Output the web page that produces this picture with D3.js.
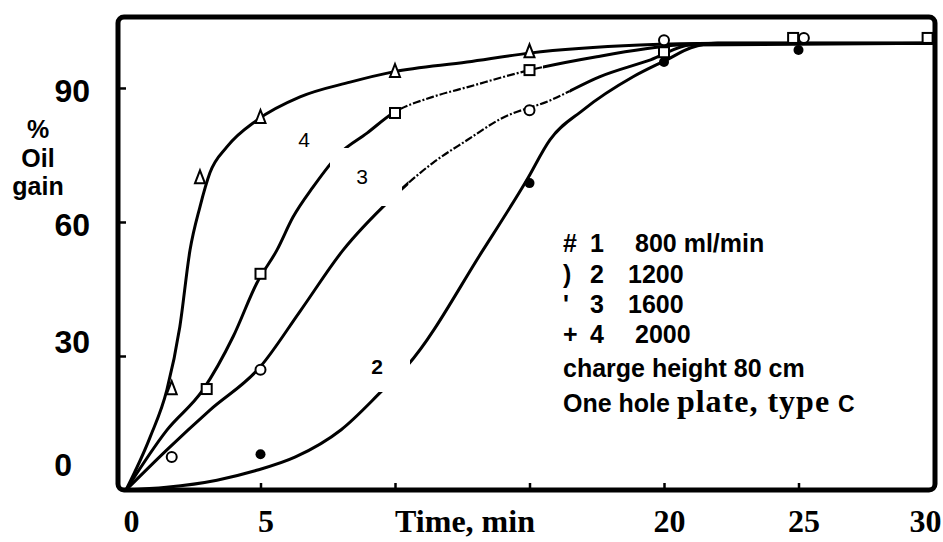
<!DOCTYPE html>
<meta charset="utf-8">
<html>
<head>
    <script src="https://d3js.org/d3.v7.min.js"></script>
    <style>
        body { margin: 0; background: #fff; }
        svg { display: block; }
    </style>
</head>
<body>
<div id="chart"></div>
<script>

    // measured points (time in min, % oil gain)
    var triT = [1.7, 2.75, 5, 10, 15];
    var triV = [22.8, 70, 83.5, 93.8, 98.2];
    var sqT = [3, 5, 10, 15, 20, 24.8, 29.8];
    var sqV = [22.6, 48.4, 84.4, 94, 98, 101.2, 101.2];
    var circT = [1.7, 5, 15, 20, 25.2];
    var circV = [7.4, 26.9, 85, 100.7, 101.2];
    var dotT = [5, 15, 20, 25];
    var dotV = [8, 68.7, 95.8, 98.5];

    // hand drawn curves
    var c4T = [0, 0.9, 1.52, 2.0, 2.38, 2.75, 3.12, 3.75, 4.87, 6.47, 8.33, 9.93, 12.68, 15.0, 19.1, 22, 30];
    var c4V = [0, 11.9, 22.4, 36.5, 53.7, 63.4, 71, 76.8, 82.8, 88, 91.3, 93.6, 95.8, 97.8, 99.6, 100, 100];
    var c3T = [0, 1.52, 2.86, 3.98, 4.87, 5.61, 6.21, 6.95, 7.95, 8.96, 9.93, 11.4, 12.7, 15.0, 17.5, 20.5, 22, 30];
    var c3V = [0, 13.4, 22.4, 34.3, 46.4, 53.7, 61.1, 67.8, 75.4, 79.9, 84.4, 88, 90.2, 94, 97, 99.6, 100, 100];
    var c2T = [0, 1.52, 3.12, 4.98, 6.47, 8.07, 9.81, 11.4, 12.7, 13.9, 15.8, 17.6, 19.5, 21, 30];
    var c2V = [0, 9, 17.9, 27.5, 40, 53.7, 64.9, 73.2, 78.4, 83, 87.3, 92.5, 96.3, 99.6, 100];
    var c1T = [0, 1.5, 3.38, 4.8, 6.3, 8.0, 9.55, 10.48, 13.27, 14.9, 15.76, 17.0, 18.85, 20.1, 21, 22, 30];
    var c1V = [0, 0.6, 2.2, 4.3, 7.4, 13.5, 22.4, 28, 53.7, 69.4, 78.4, 85.1, 92.5, 96.3, 99, 100, 100];

    // stretches of curves 3 and 2 that are broken/dashed in the scan
    var dashed3 = [10, 15.5];
    var dashed2 = [10.5, 16.5];

    var xTickVals = [5, 10, 15, 20, 25];
    var xLabelVals = [0, 5, 20, 25, 30];
    var yTickVals = [30, 60, 90];
    var yLabelVals = [0, 30, 60, 90];

    var legendRows = [
        ["#", "1", "800 ml/min"],
        [")", "2", "1200"],
        ["'", "3", "1600"],
        ["+", "4", "2000"]
    ];

    var width = 943, height = 542;

    var svg = d3.select("#chart")
        .append("svg")
        .attr("width", width)
        .attr("height", height);

    var x = d3.scaleLinear().domain([0, 30]).range([126, 933]);
    var y = d3.scaleLinear().domain([0, 100]).range([490, 43.3]);

    var sans = "'Liberation Sans', Arial, sans-serif";
    var serif = "'Liberation Serif', 'Times New Roman', serif";

    function zip(t, v) {
        return t.map(function (d, i) { return { t: d, v: v[i] }; });
    }

    // clip regions: inside / outside a time range
    var defs = svg.append("defs");
    function makeClips(id, r) {
        defs.append("clipPath").attr("id", id + "-in")
            .append("rect").attr("x", x(r[0])).attr("y", 0)
            .attr("width", x(r[1]) - x(r[0])).attr("height", height);
        var out = defs.append("clipPath").attr("id", id + "-out");
        out.append("rect").attr("x", 0).attr("y", 0).attr("width", x(r[0])).attr("height", height);
        out.append("rect").attr("x", x(r[1])).attr("y", 0).attr("width", width - x(r[1])).attr("height", height);
    }
    makeClips("c3", dashed3);
    makeClips("c2", dashed2);

    // curves
    var line = d3.line()
        .x(function (d) { return x(d.t); })
        .y(function (d) { return y(d.v); })
        .curve(d3.curveMonotoneX);

    function drawCurve(t, v, clipId) {
        var p = svg.append("path")
            .datum(zip(t, v))
            .attr("d", line)
            .attr("fill", "none")
            .attr("stroke", "#000")
            .attr("stroke-width", 3);
        if (clipId) {
            p.attr("clip-path", "url(#" + clipId + "-out)");
            svg.append("path")
                .datum(zip(t, v))
                .attr("d", line)
                .attr("fill", "none")
                .attr("stroke", "#000")
                .attr("stroke-width", 2.2)
                .attr("stroke-dasharray", "8,2,2,2")
                .attr("clip-path", "url(#" + clipId + "-in)");
        }
    }
    drawCurve(c1T, c1V);
    drawCurve(c2T, c2V, "c2");
    drawCurve(c3T, c3V, "c3");
    drawCurve(c4T, c4V);

    // white patches where the curve numbers sit
    svg.append("rect").attr("x", 330).attr("y", 148).attr("width", 72).attr("height", 58).attr("fill", "#fff");
    svg.append("rect").attr("x", 362).attr("y", 352).attr("width", 48).attr("height", 40).attr("fill", "#fff");

    svg.append("text").attr("x", 304).attr("y", 147).attr("text-anchor", "middle")
        .style("font-family", sans).style("font-size", "21px").text("4");
    svg.append("text").attr("x", 362).attr("y", 184).attr("text-anchor", "middle")
        .style("font-family", sans).style("font-size", "21px").text("3");
    svg.append("text").attr("x", 377).attr("y", 374).attr("text-anchor", "middle")
        .style("font-family", sans).style("font-size", "21px").style("font-weight", "bold").text("2");

    // markers
    svg.selectAll(".tri")
        .data(zip(triT, triV))
        .enter().append("path")
        .attr("class", "tri")
        .attr("d", function (d) {
            var cx = x(d.t), cy = y(d.v);
            return "M" + cx + "," + (cy - 7) + "L" + (cx + 5) + "," + (cy + 6) + "L" + (cx - 5) + "," + (cy + 6) + "Z";
        })
        .attr("fill", "#fff").attr("stroke", "#000").attr("stroke-width", 2);

    svg.selectAll(".sq")
        .data(zip(sqT, sqV))
        .enter().append("rect")
        .attr("class", "sq")
        .attr("x", function (d) { return x(d.t) - 5; })
        .attr("y", function (d) { return y(d.v) - 5; })
        .attr("width", 10).attr("height", 10)
        .attr("fill", "#fff").attr("stroke", "#000").attr("stroke-width", 2);

    svg.selectAll(".circ")
        .data(zip(circT, circV))
        .enter().append("circle")
        .attr("class", "circ")
        .attr("cx", function (d) { return x(d.t); })
        .attr("cy", function (d) { return y(d.v); })
        .attr("r", 5)
        .attr("fill", "#fff").attr("stroke", "#000").attr("stroke-width", 2);

    svg.selectAll(".dot")
        .data(zip(dotT, dotV))
        .enter().append("circle")
        .attr("class", "dot")
        .attr("cx", function (d) { return x(d.t); })
        .attr("cy", function (d) { return y(d.v); })
        .attr("r", 5)
        .attr("fill", "#000");

    // frame
    svg.append("rect")
        .attr("x", 118).attr("y", 17)
        .attr("width", 935 - 118).attr("height", 490 - 17)
        .attr("rx", 6)
        .attr("fill", "none").attr("stroke", "#000").attr("stroke-width", 5);

    // inward tick marks
    svg.append("g")
        .attr("transform", "translate(0,490)")
        .call(d3.axisBottom(x).tickValues(xTickVals).tickSize(-7).tickFormat(""))
        .call(function (g) { g.select(".domain").remove(); })
        .selectAll("line").attr("stroke-width", 2.5);

    svg.append("g")
        .attr("transform", "translate(118,0)")
        .call(d3.axisLeft(y).tickValues(yTickVals).tickSize(-8).tickFormat(""))
        .call(function (g) { g.select(".domain").remove(); })
        .selectAll("line").attr("stroke-width", 2.5);

    // x tick labels
    var xLab = svg.append("g")
        .attr("transform", "translate(0,490)")
        .call(d3.axisBottom(x).tickValues(xLabelVals).tickSize(0).tickPadding(19).tickFormat(d3.format("d")));
    xLab.select(".domain").remove();
    xLab.selectAll("text")
        .attr("fill", "#000")
        .attr("dx", function (d) { return d === 30 ? -8 : 5; })
        .style("font-family", serif)
        .style("font-size", "32px")
        .style("font-weight", "bold");

    svg.append("text")
        .attr("x", 465).attr("y", 532)
        .attr("text-anchor", "middle")
        .style("font-family", serif).style("font-size", "32px").style("font-weight", "bold")
        .text("Time, min");

    // y tick labels
    var yLab = svg.append("g")
        .attr("transform", "translate(118,0)")
        .call(d3.axisLeft(y).tickValues(yLabelVals).tickSize(0).tickPadding(28));
    yLab.select(".domain").remove();
    yLab.selectAll("text")
        .attr("fill", "#000")
        .attr("x", function (d) { return d === 0 ? -46 : -28; })
        .attr("y", function (d) { return d === 0 ? -25 : (d === 30 ? -14 : 3); })
        .style("font-family", sans)
        .style("font-size", "32px")
        .style("font-weight", "bold");

    // y title
    var yTitle = ["%", "Oil", "gain"];
    var yTitleBase = [138, 167, 195];
    yTitle.forEach(function (s, i) {
        svg.append("text")
            .attr("x", 38).attr("y", yTitleBase[i])
            .attr("text-anchor", "middle")
            .style("font-family", sans).style("font-size", "25px").style("font-weight", "bold")
            .text(s);
    });

    // legend
    var legend = svg.append("g")
        .style("font-family", sans).style("font-size", "25px").style("font-weight", "bold");
    var rowBase = [252, 283, 313, 343];
    legendRows.forEach(function (r, i) {
        var t = legend.append("text").attr("y", rowBase[i]);
        t.append("tspan").attr("x", 563).text(r[0]);
        t.append("tspan").attr("x", 590).text(r[1]);
        t.append("tspan").attr("x", i === 0 || i === 3 ? 635 : 628).text(r[2]);
    });
    legend.append("text").attr("x", 563).attr("y", 377).text("charge height 80 cm");
    var last = legend.append("text").attr("x", 563).attr("y", 412);
    last.append("tspan").text("One hole ");
    last.append("tspan").style("font-family", serif).style("font-size", "32px")
        .style("letter-spacing", "1px").text("plate, type");
    last.append("tspan").attr("dx", 8).style("font-size", "23px").text("C");

</script>
</body>
</html>
